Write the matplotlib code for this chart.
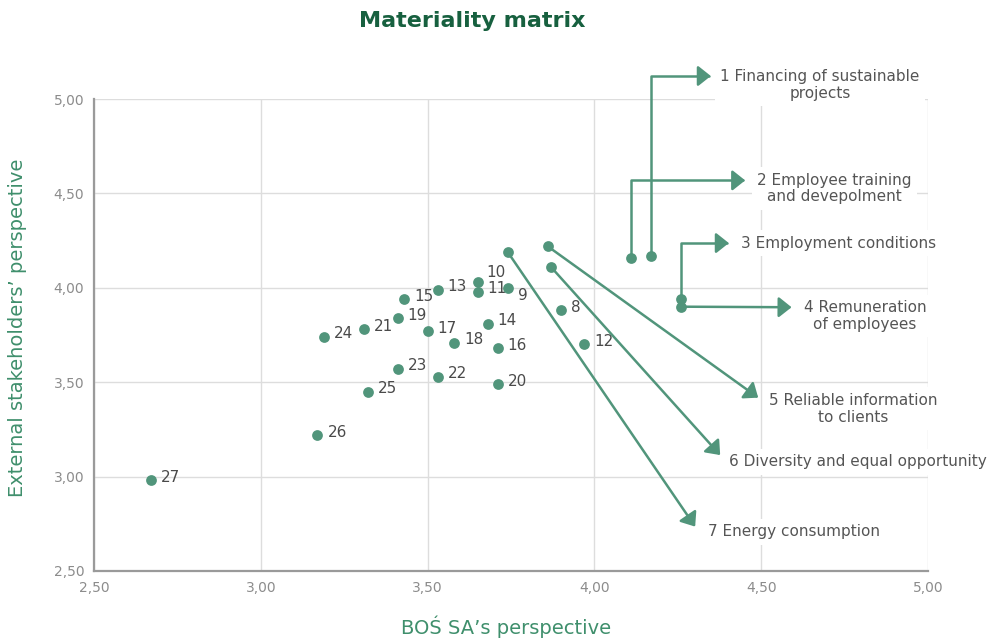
import matplotlib
matplotlib.use("Agg")
import matplotlib.pyplot as plt

# Topic scores: BOŚ SA's view (x) vs external stakeholders' view (y)
topic_ids = list(range(1, 28))
bos_scores = [4.17, 4.11, 4.26, 4.26, 3.86, 3.87, 3.74, 3.90, 3.74, 3.65,
              3.65, 3.97, 3.53, 3.68, 3.43, 3.71, 3.50, 3.58, 3.41, 3.71,
              3.31, 3.53, 3.41, 3.19, 3.32, 3.17, 2.67]
ext_scores = [4.17, 4.16, 3.94, 3.90, 4.22, 4.11, 4.19, 3.88, 4.00, 4.03,
              3.98, 3.70, 3.99, 3.81, 3.94, 3.68, 3.77, 3.71, 3.84, 3.49,
              3.78, 3.53, 3.57, 3.74, 3.45, 3.22, 2.98]

# Named topics (1-7) get an arrow and a description
topic_names = [
    "1 Financing of sustainable\nprojects",
    "2 Employee training\nand devepolment",
    "3 Employment conditions",
    "4 Remuneration\nof employees",
    "5 Reliable information\nto clients",
    "6 Diversity and equal opportunity",
    "7 Energy consumption",
]

tick_values = [2.5, 3.0, 3.5, 4.0, 4.5, 5.0]
tick_labels = ["2,50", "3,00", "3,50", "4,00", "4,50", "5,00"]

GREEN = "#51957b"
DARK_GREEN = "#17603f"
LABEL_GREEN = "#3f8f6c"
TEXT = "#555555"

plt.rcParams["font.family"] = ["DejaVu Sans"]

fig = plt.figure(figsize=(9.88, 6.43), dpi=100)
ax = fig.add_axes([0.0951, 0.112, 0.8442, 0.734])

ax.set_xlim(2.5, 5.0)
ax.set_ylim(2.5, 5.0)
ax.set_xticks(tick_values)
ax.set_xticklabels(tick_labels)
ax.set_yticks(tick_values)
ax.set_yticklabels(tick_labels)
ax.tick_params(length=0, labelsize=10, labelcolor="#8c8c8c", pad=7)
ax.grid(True, color="#dddddd", linewidth=1)
ax.set_axisbelow(True)
for side in ("top", "right"):
    ax.spines[side].set_visible(False)
for side in ("left", "bottom"):
    ax.spines[side].set_color("#9a9a9a")
    ax.spines[side].set_linewidth(1.6)

ax.scatter(bos_scores, ext_scores, s=60, color=GREEN, zorder=4,
           linewidths=0)

# number labels for the unnamed topics
label_offsets = {10: (9, 10), 9: (10, -8)}
for tid, x, y in zip(topic_ids[7:], bos_scores[7:], ext_scores[7:]):
    off = label_offsets.get(tid, (10, 3))
    ax.annotate(str(tid), (x, y), xytext=off, textcoords="offset pixels",
                fontsize=11, color="#4a4a4a", ha="left", va="center")

# arrow tips and description centres for topics 1-7 (data coords)
arrow_tips = [(4.349, 5.122), (4.452, 4.569), (4.403, 4.237), (4.591, 3.897),
              (4.491, 3.418), (4.377, 3.114), (4.302, 2.735)]
text_pos = [(4.676, 5.074), (4.720, 4.526), (4.732, 4.237), (4.811, 3.851),
            (4.775, 3.360), (4.790, 3.079), (4.597, 2.707)]
elbow = [True, True, True, False, False, False, False]

arrow_style = "-|>,head_length=0.78,head_width=0.62"
for i, name in enumerate(topic_names):
    start = (bos_scores[i], ext_scores[i])
    conn = "angle,angleA=90,angleB=0,rad=0" if elbow[i] else "arc3,rad=0"
    ax.annotate("", xy=arrow_tips[i], xytext=start,
                arrowprops=dict(arrowstyle=arrow_style, color=GREEN, lw=1.8,
                                shrinkA=0, shrinkB=0, connectionstyle=conn),
                annotation_clip=False, zorder=3)
    ax.text(text_pos[i][0], text_pos[i][1], name, ha="center", va="center",
            multialignment="center", fontsize=11, color=TEXT,
            linespacing=1.15, clip_on=False, zorder=2,
            bbox=dict(boxstyle="square,pad=0.35", fc="white", ec="none"))

fig.text(0.478, 0.968, "Materiality matrix", ha="center", va="center",
         fontsize=16, fontweight="bold", color=DARK_GREEN)
fig.text(0.512, 0.025, "BOŚ SA\u2019s perspective", ha="center", va="center",
         fontsize=14, color=LABEL_GREEN)
fig.text(0.018, 0.49, "External stakeholders\u2019 perspective", ha="center",
         va="center", rotation=90, fontsize=14, color=LABEL_GREEN)

fig.savefig("out.png", dpi=100)
